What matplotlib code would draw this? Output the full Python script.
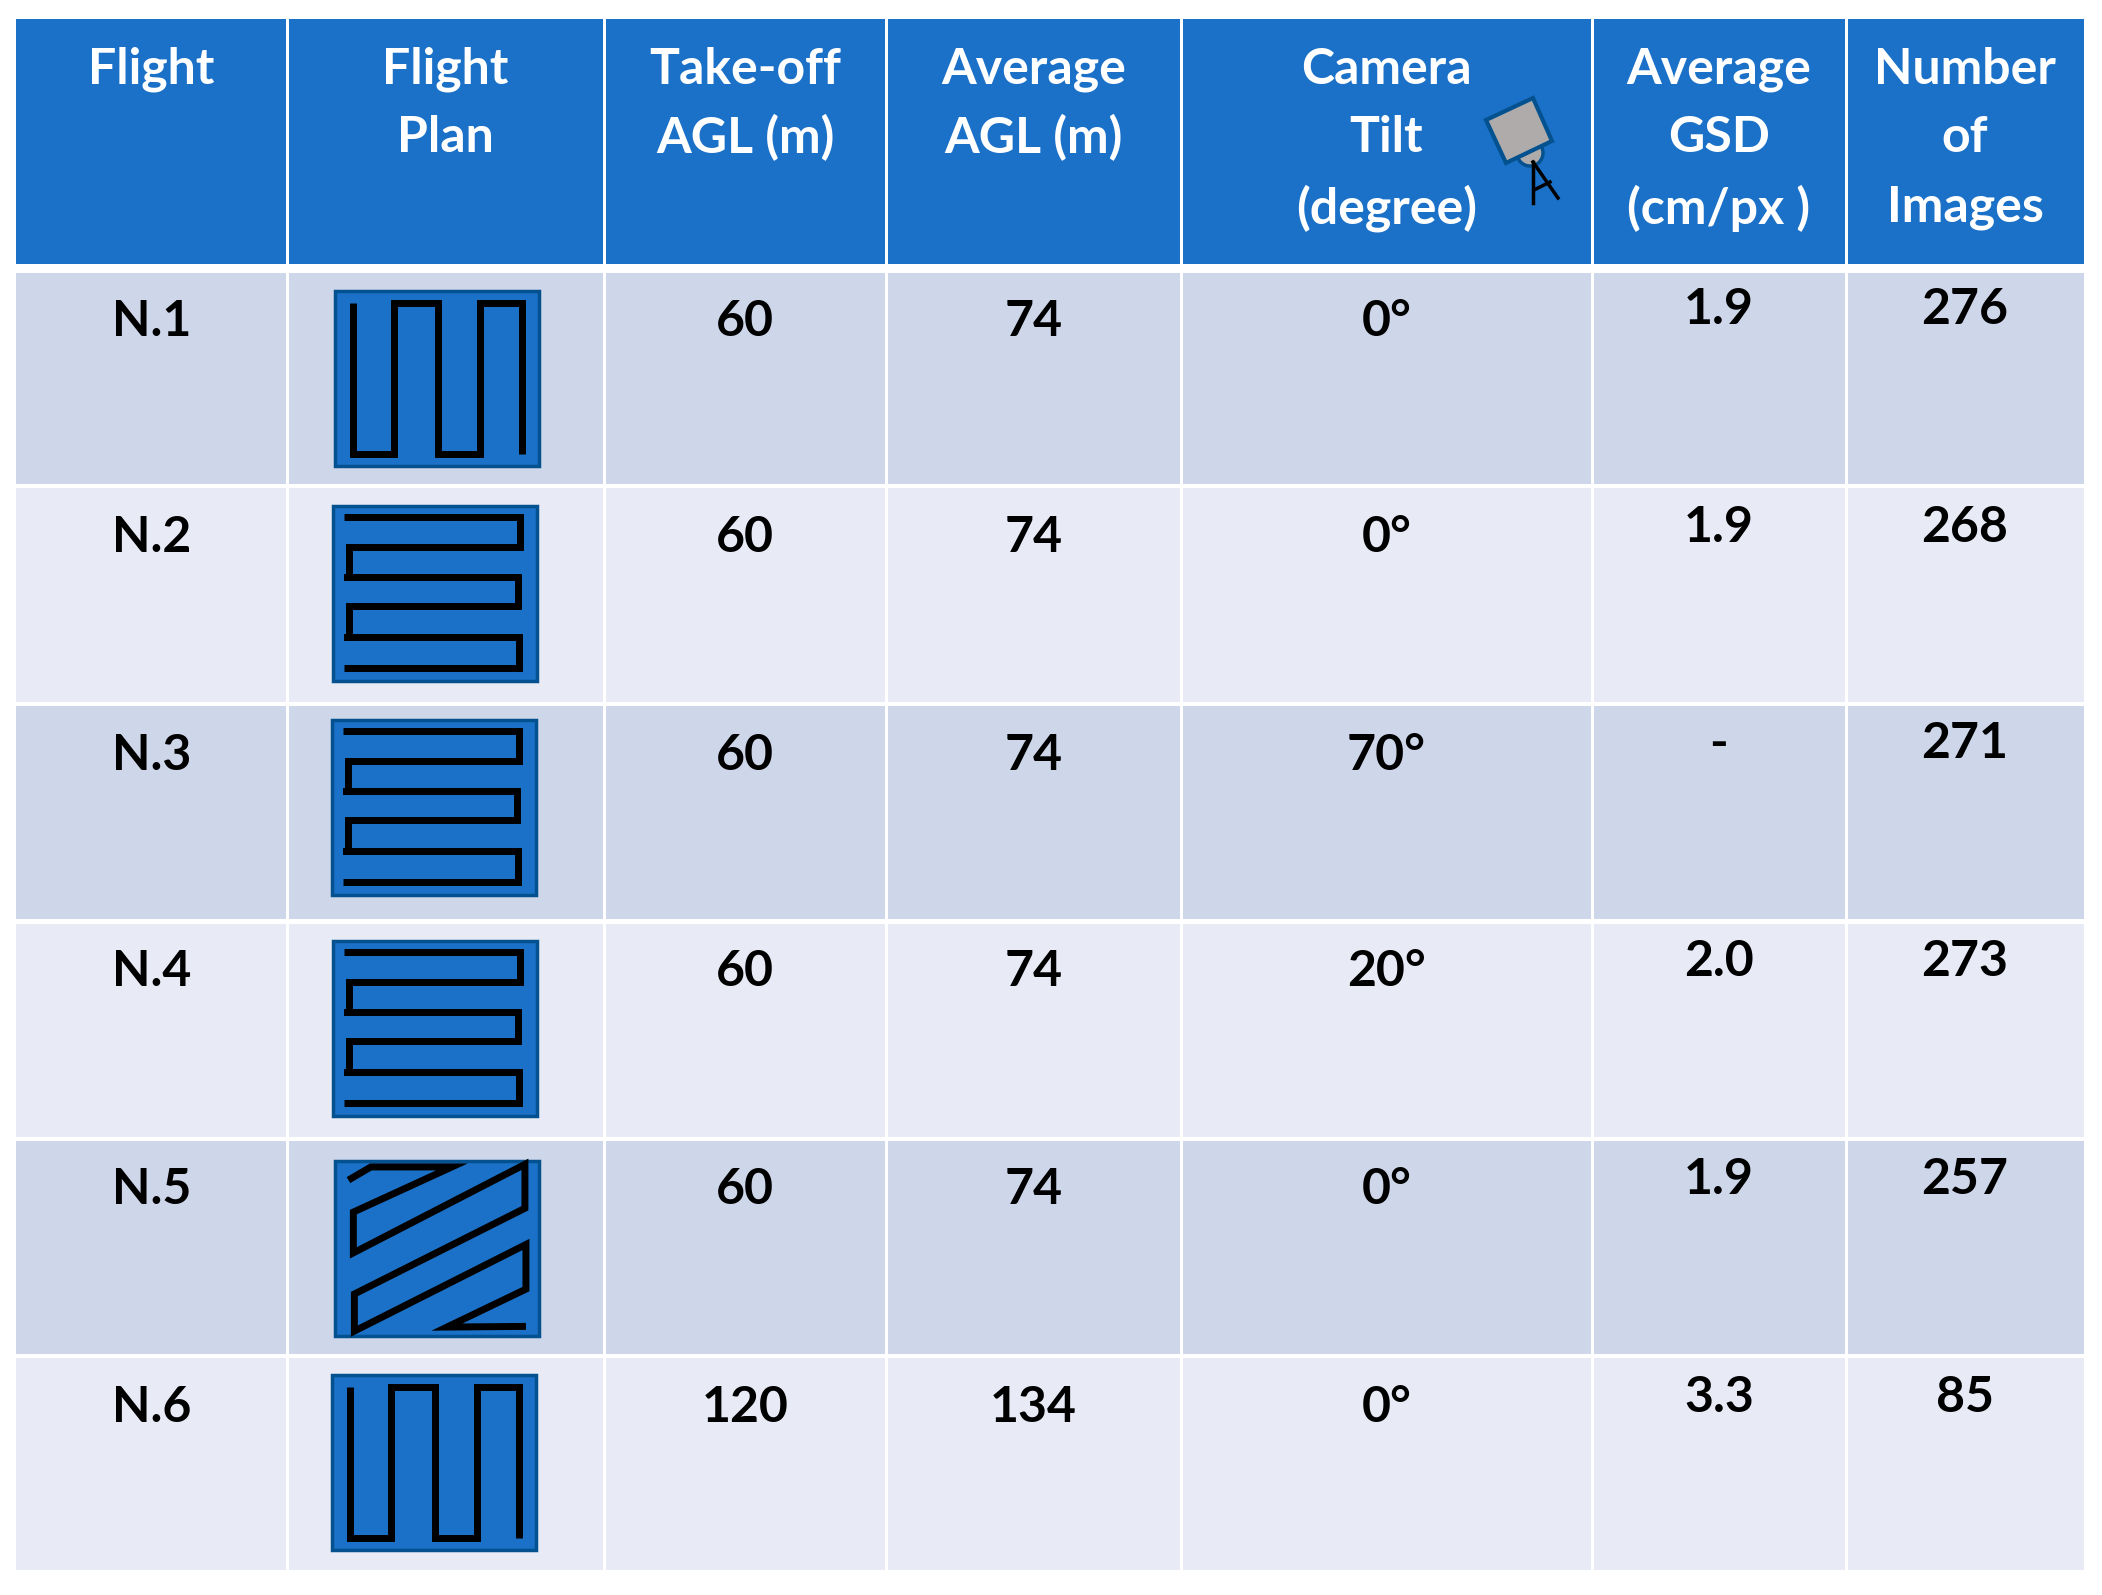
## Table of the flights with a small sketch of every flight plan
import matplotlib
matplotlib.use("Agg")
import matplotlib.pyplot as plt
from matplotlib.patches import Rectangle, Polygon, Circle

flights = ["N.1", "N.2", "N.3", "N.4", "N.5", "N.6"]
takeoff = ["60", "60", "60", "60", "60", "120"]
avg_agl = ["74", "74", "74", "74", "74", "134"]
tilt = ["0°", "0°", "70°", "20°", "0°", "0°"]
gsd = ["1.9", "1.9", "-", "2.0", "1.9", "3.3"]
images = ["276", "268", "271", "273", "257", "85"]
headers = [["Flight"], ["Flight", "Plan"], ["Take-off", "AGL (m)"], ["Average", "AGL (m)"],
           ["Camera", "Tilt", "(degree)"], ["Average", "GSD", "(cm/px )"], ["Number", "of", "Images"]]

# flight plan sketches, in fractions of the little box
plan_ns = [(.087, .068), (.087, .934), (.29, .934), (.29, .068), (.507, .068), (.507, .934),
           (.712, .934), (.712, .068), (.916, .068), (.916, .934)]
plan_ew = [(.053, .062), (.916, .062), (.916, .233), (.077, .233), (.077, .403), (.053, .403),
           (.905, .403), (.905, .574), (.077, .574), (.077, .747), (.053, .747), (.91, .747),
           (.91, .923), (.053, .923)]
plan_diag = [(.066, .109), (.176, .034), (.573, .034), (.09, .292), (.09, .525), (.931, .019),
             (.931, .27), (.095, .76), (.095, .972), (.936, .477), (.936, .732), (.549, .949),
             (.936, .945)]
plans = [plan_ns, plan_ew, plan_ew, plan_ew, plan_diag, plan_ns]

# layout, pixels
col_edges = [16, 287, 604, 886, 1181, 1592, 1846, 2084]
row_tops = [273, 488, 706, 924, 1141, 1358]
row_bots = [484, 702, 919, 1137, 1354, 1570]
text_y = [321, 538, 755, 972, 1189, 1407]
text_y2 = [310, 528, 744, 962, 1179, 1397]
box_x = [335, 333, 332, 333, 335, 332]
box_y = [291, 506, 720, 941, 1161, 1375]
box_w, box_h = 204, 175
head_y = [69, 138, 208]

HEAD = "#1b71c8"
DARK = "#ced6ea"
LIGHT = "#e8ebf6"
EDGE = "#03528f"
FS = 36

fig = plt.figure(figsize=(21.02, 15.95), dpi=100)
ax = fig.add_axes([0, 0, 1, 1])
ax.set_xlim(0, 2102)
ax.set_ylim(1595, 0)
ax.axis("off")
plt.rcParams['font.family'] = ['Lato', 'DejaVu Sans']

gap = 1.5
centers = [(a + b) / 2.0 for a, b in zip(col_edges[:-1], col_edges[1:])]
for i in range(7):
	x0, x1 = col_edges[i] + gap, col_edges[i + 1] - gap
	if i == 0:
		x0 = col_edges[0]
	if i == 6:
		x1 = col_edges[7]
	ax.add_patch(Rectangle((x0, 19), x1 - x0, 245, fc=HEAD, ec="none"))
	for k, line in enumerate(headers[i]):
		ax.text(centers[i], head_y[k], line, color="white", fontsize=FS, fontweight="bold", ha="center", va="center")
	for r in range(6):
		ax.add_patch(Rectangle((x0, row_tops[r]), x1 - x0, row_bots[r] - row_tops[r], fc=DARK if r % 2 == 0 else LIGHT, ec="none"))

for r in range(6):
	ax.text(centers[0], text_y[r], flights[r], fontsize=FS, fontweight="bold", ha="center", va="center", color="black")
	ax.text(centers[2], text_y[r], takeoff[r], fontsize=FS, fontweight="bold", ha="center", va="center", color="black")
	ax.text(centers[3], text_y[r], avg_agl[r], fontsize=FS, fontweight="bold", ha="center", va="center", color="black")
	ax.text(centers[4], text_y[r], tilt[r], fontsize=FS, fontweight="bold", ha="center", va="center", color="black")
	ax.text(centers[5], text_y2[r], gsd[r], fontsize=FS, fontweight="bold", ha="center", va="center", color="black")
	ax.text(centers[6], text_y2[r], images[r], fontsize=FS, fontweight="bold", ha="center", va="center", color="black")

	## Draw the flight plan sketch
	ax.add_patch(Rectangle((box_x[r], box_y[r]), box_w, box_h, fc=HEAD, ec=EDGE, lw=2.5))
	xs = [box_x[r] + p[0] * box_w for p in plans[r]]
	ys = [box_y[r] + p[1] * box_h for p in plans[r]]
	ax.plot(xs, ys, color="black", lw=5, solid_joinstyle="miter", solid_capstyle="butt")

## Camera icon in the tilt header
ax.add_patch(Circle((1530, 153), 13, fc="#afabab", ec=EDGE, lw=2.5))
ax.add_patch(Polygon([(1533, 98), (1552, 141), (1506, 163), (1486, 120)], closed=True, fc="#afabab", ec=EDGE, lw=3))
ax.plot([1533, 1533], [162, 203], color="black", lw=2.5)
ax.plot([1533, 1558], [162, 198], color="black", lw=2.5)
ax.plot([1534, 1550], [190, 182], color="black", lw=2.5)

fig.savefig("out.png", dpi=100, facecolor="white")
